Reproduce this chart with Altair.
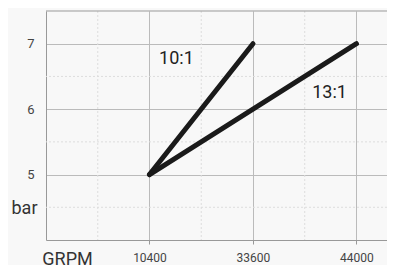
import altair as alt
import pandas as pd

# Data
categories = ["10400", "33600", "44000"]
cat_index = [1, 2, 3]
series_names = ["10:1", "10:1", "13:1", "13:1"]
series_rpm = ["10400", "33600", "10400", "44000"]
series_bar = [5, 7, 5, 7]
label_text = ["10:1", "13:1"]
label_x = [1.26, 2.74]
label_y = [6.77, 6.25]
minor_x = [0.5, 1.5, 2.5]
minor_y = [4.5, 5.5, 6.5]
y_ticks = [5, 6, 7]
top_border = [7.5]

idx = dict(zip(categories, cat_index))
lines_df = pd.DataFrame({
    "series": series_names,
    "x": [idx[r] for r in series_rpm],
    "bar": series_bar,
})
labels_df = pd.DataFrame({"t": label_text, "x": label_x, "y": label_y})
minor_x_df = pd.DataFrame({"x": minor_x})
minor_y_df = pd.DataFrame({"y": minor_y})
top_df = pd.DataFrame({"y": top_border})

FONT = "Roboto"
label_expr = " : ".join(
    [f"datum.value == {i} ? '{c}'" for c, i in zip(categories, cat_index)]
) + " : ''"

xscale = alt.Scale(domain=[0, 3.295], nice=False, zero=False)
yscale = alt.Scale(domain=[4, 7.5], nice=False, zero=False)

xaxis = alt.Axis(
    values=cat_index, labelExpr=label_expr, grid=True, gridColor="#bbbbbb",
    gridWidth=1, domainColor="#999999", tickColor="#999999", tickSize=4,
    labelFont=FONT, labelFontSize=12, labelColor="#444444", labelPadding=8,
    title="GRPM", titleFont=FONT, titleFontSize=18, titleFontWeight="normal",
    titleColor="#333333", titleX=21, titleY=24, titleAlign="center",
    titleBaseline="alphabetic",
)
yaxis = alt.Axis(
    values=y_ticks, grid=True, gridColor="#bbbbbb", gridWidth=1,
    domainColor="#999999", ticks=False, labelPadding=12,
    labelFont=FONT, labelFontSize=13, labelColor="#444444",
    title="bar", titleFont=FONT, titleFontSize=18, titleFontWeight="normal",
    titleColor="#333333", titleAngle=0, titleX=-9, titleY=197,
    titleAlign="right", titleBaseline="middle",
)

minor_v = alt.Chart(minor_x_df).mark_rule(
    color="#dddddd", strokeWidth=1, strokeDash=[2, 2]
).encode(x=alt.X("x:Q", scale=xscale, axis=xaxis))

minor_h = alt.Chart(minor_y_df).mark_rule(
    color="#dddddd", strokeWidth=1, strokeDash=[2, 2]
).encode(y=alt.Y("y:Q", scale=yscale, axis=yaxis))

top = alt.Chart(top_df).mark_rule(
    color="#999999", strokeWidth=1
).encode(y=alt.Y("y:Q", scale=yscale, axis=yaxis))

lines = alt.Chart(lines_df).mark_line(
    color="#1a1a1a", strokeWidth=5, strokeCap="round", strokeJoin="round"
).encode(
    x=alt.X("x:Q", scale=xscale, axis=xaxis),
    y=alt.Y("bar:Q", scale=yscale, axis=yaxis),
    detail="series:N",
)

labels = alt.Chart(labels_df).mark_text(
    font=FONT, fontSize=18, color="#222222", align="center", baseline="middle"
).encode(
    x=alt.X("x:Q", scale=xscale, axis=xaxis),
    y=alt.Y("y:Q", scale=yscale, axis=yaxis),
    text="t:N",
)

chart = alt.layer(minor_v, minor_h, top, lines, labels).properties(
    width=341, height=229,
    autosize=alt.AutoSizeParams(type="none"),
    padding={"left": 38, "top": 3, "right": 0, "bottom": 25},
    background="#f8f8f8",
).configure_view(strokeWidth=0)

chart.save("out.html", embed_options={"renderer": "svg", "actions": False})
